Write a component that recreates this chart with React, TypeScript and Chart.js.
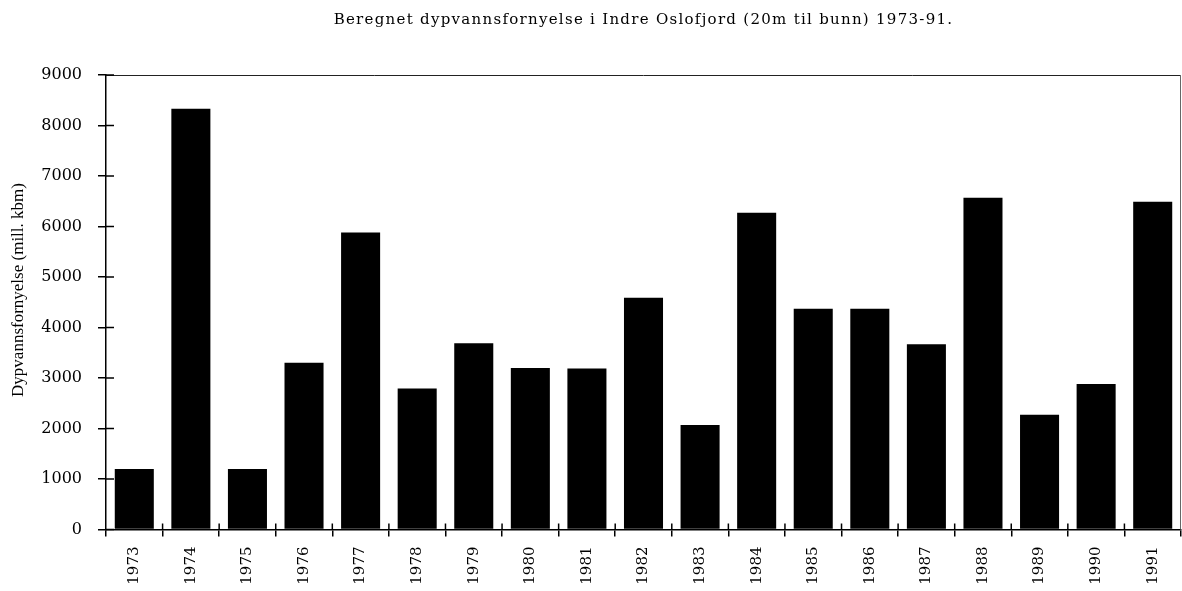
import React, { useEffect, useRef } from "react";
import { Chart, registerables } from "chart.js";

Chart.register(...registerables);

const TITLE = "Beregnet dypvannsfornyelse i Indre Oslofjord (20m til bunn) 1973-91.";
const Y_TITLE = "Dypvannsfornyelse (mill. kbm)";
const YEARS = [
  "1973", "1974", "1975", "1976", "1977", "1978", "1979", "1980", "1981", "1982",
  "1983", "1984", "1985", "1986", "1987", "1988", "1989", "1990", "1991",
];
const RENEWAL = [
  1200, 8330, 1200, 3300, 5880, 2790, 3690, 3200, 3190, 4590,
  2070, 6270, 4370, 4370, 3670, 6570, 2270, 2880, 6490,
];
const Y_MIN = 0;
const Y_MAX = 9000;
const Y_STEP = 1000;

const decorPlugin = {
  id: "decor",
  beforeDraw(chart: any) {
    const { ctx, width, height } = chart;
    ctx.save();
    ctx.fillStyle = "#ffffff";
    ctx.fillRect(0, 0, width, height);
    ctx.restore();
  },
  afterDraw(chart: any) {
    const { ctx, chartArea } = chart;
    const { left, right, top, bottom } = chartArea;
    const xs = chart.scales.x;
    const ys = chart.scales.y;
    ctx.save();
    // top and right frame
    ctx.strokeStyle = "#222";
    ctx.lineWidth = 1;
    ctx.beginPath();
    ctx.moveTo(left, top + 0.5);
    ctx.lineTo(right, top + 0.5);
    ctx.stroke();
    ctx.strokeStyle = "#666";
    ctx.beginPath();
    ctx.moveTo(right - 0.5, top);
    ctx.lineTo(right - 0.5, bottom);
    ctx.stroke();
    // inner y ticks
    ctx.strokeStyle = "#000";
    ctx.lineWidth = 1.5;
    ys.ticks.forEach((t: any) => {
      const y = ys.getPixelForValue(t.value);
      ctx.beginPath();
      ctx.moveTo(left, y);
      ctx.lineTo(left + 8, y);
      ctx.stroke();
    });
    // inner x ticks at category boundaries
    for (let i = 0; i < YEARS.length - 1; i++) {
      const x = (xs.getPixelForValue(i) + xs.getPixelForValue(i + 1)) / 2;
      ctx.beginPath();
      ctx.moveTo(x, bottom);
      ctx.lineTo(x, bottom - 6);
      ctx.stroke();
    }
    // title
    ctx.fillStyle = "#000";
    ctx.font = "15px 'DejaVu Serif'";
    const targetW = 620;
    const w0 = ctx.measureText(TITLE).width;
    const ls = Math.max(0, (targetW - w0) / TITLE.length);
    (ctx as any).letterSpacing = ls.toFixed(2) + "px";
    const w1 = ctx.measureText(TITLE).width;
    ctx.textAlign = "left";
    ctx.textBaseline = "alphabetic";
    ctx.fillText(TITLE, (left + right) / 2 - w1 / 2, 24);
    (ctx as any).letterSpacing = "0px";
    // y title
    ctx.font = "17px 'Liberation Serif'";
    ctx.translate(19, 290);
    ctx.rotate(-Math.PI / 2);
    ctx.textAlign = "center";
    ctx.textBaseline = "middle";
    ctx.fillText(Y_TITLE, 0, 0);
    ctx.restore();
  },
};

export default function App() {
  const ref = useRef<HTMLCanvasElement | null>(null);
  useEffect(() => {
    if (!ref.current) return;
    const chart = new Chart(ref.current, {
      type: "bar",
      data: {
        labels: YEARS,
        datasets: [
          {
            data: RENEWAL,
            backgroundColor: "#000000",
            borderWidth: 0,
            categoryPercentage: 1,
            barPercentage: 0.69,
          },
        ],
      },
      options: {
        animation: false,
        responsive: false,
        maintainAspectRatio: false,
        layout: { padding: { top: 75, right: 1, left: 0, bottom: 0 } },
        plugins: {
          legend: { display: false },
          title: { display: false },
          tooltip: { enabled: false },
        },
        scales: {
          x: {
            offset: true,
            afterFit(scale: any) {
              scale.height = 61.5;
            },
            grid: {
              offset: true,
              drawOnChartArea: false,
              drawTicks: true,
              tickLength: 7,
              color: "#000",
              lineWidth: 1.5,
            },
            border: { display: true, color: "#000", width: 1.5 },
            ticks: {
              autoSkip: false,
              maxRotation: 90,
              minRotation: 90,
              padding: 10,
              color: "#000",
              font: { family: "'DejaVu Serif'", size: 15 },
            },
          },
          y: {
            min: Y_MIN,
            max: Y_MAX,
            afterFit(scale: any) {
              scale.width = 106;
            },
            grid: {
              drawOnChartArea: false,
              drawTicks: true,
              tickLength: 8,
              color: "#000",
              lineWidth: 1.5,
            },
            border: { display: true, color: "#000", width: 1.5 },
            ticks: {
              stepSize: Y_STEP,
              padding: 16,
              color: "#000",
              font: { family: "'DejaVu Serif'", size: 16 },
              callback: (v: any) => String(v),
            },
          },
        },
      },
      plugins: [decorPlugin],
    });
    return () => chart.destroy();
  }, []);
  return (
    <div style={{ position: "fixed", left: 0, top: 0, width: 1182, height: 591, background: "#fff" }}>
      <canvas ref={ref} width={1182} height={591} style={{ width: 1182, height: 591, display: "block" }} />
    </div>
  );
}
